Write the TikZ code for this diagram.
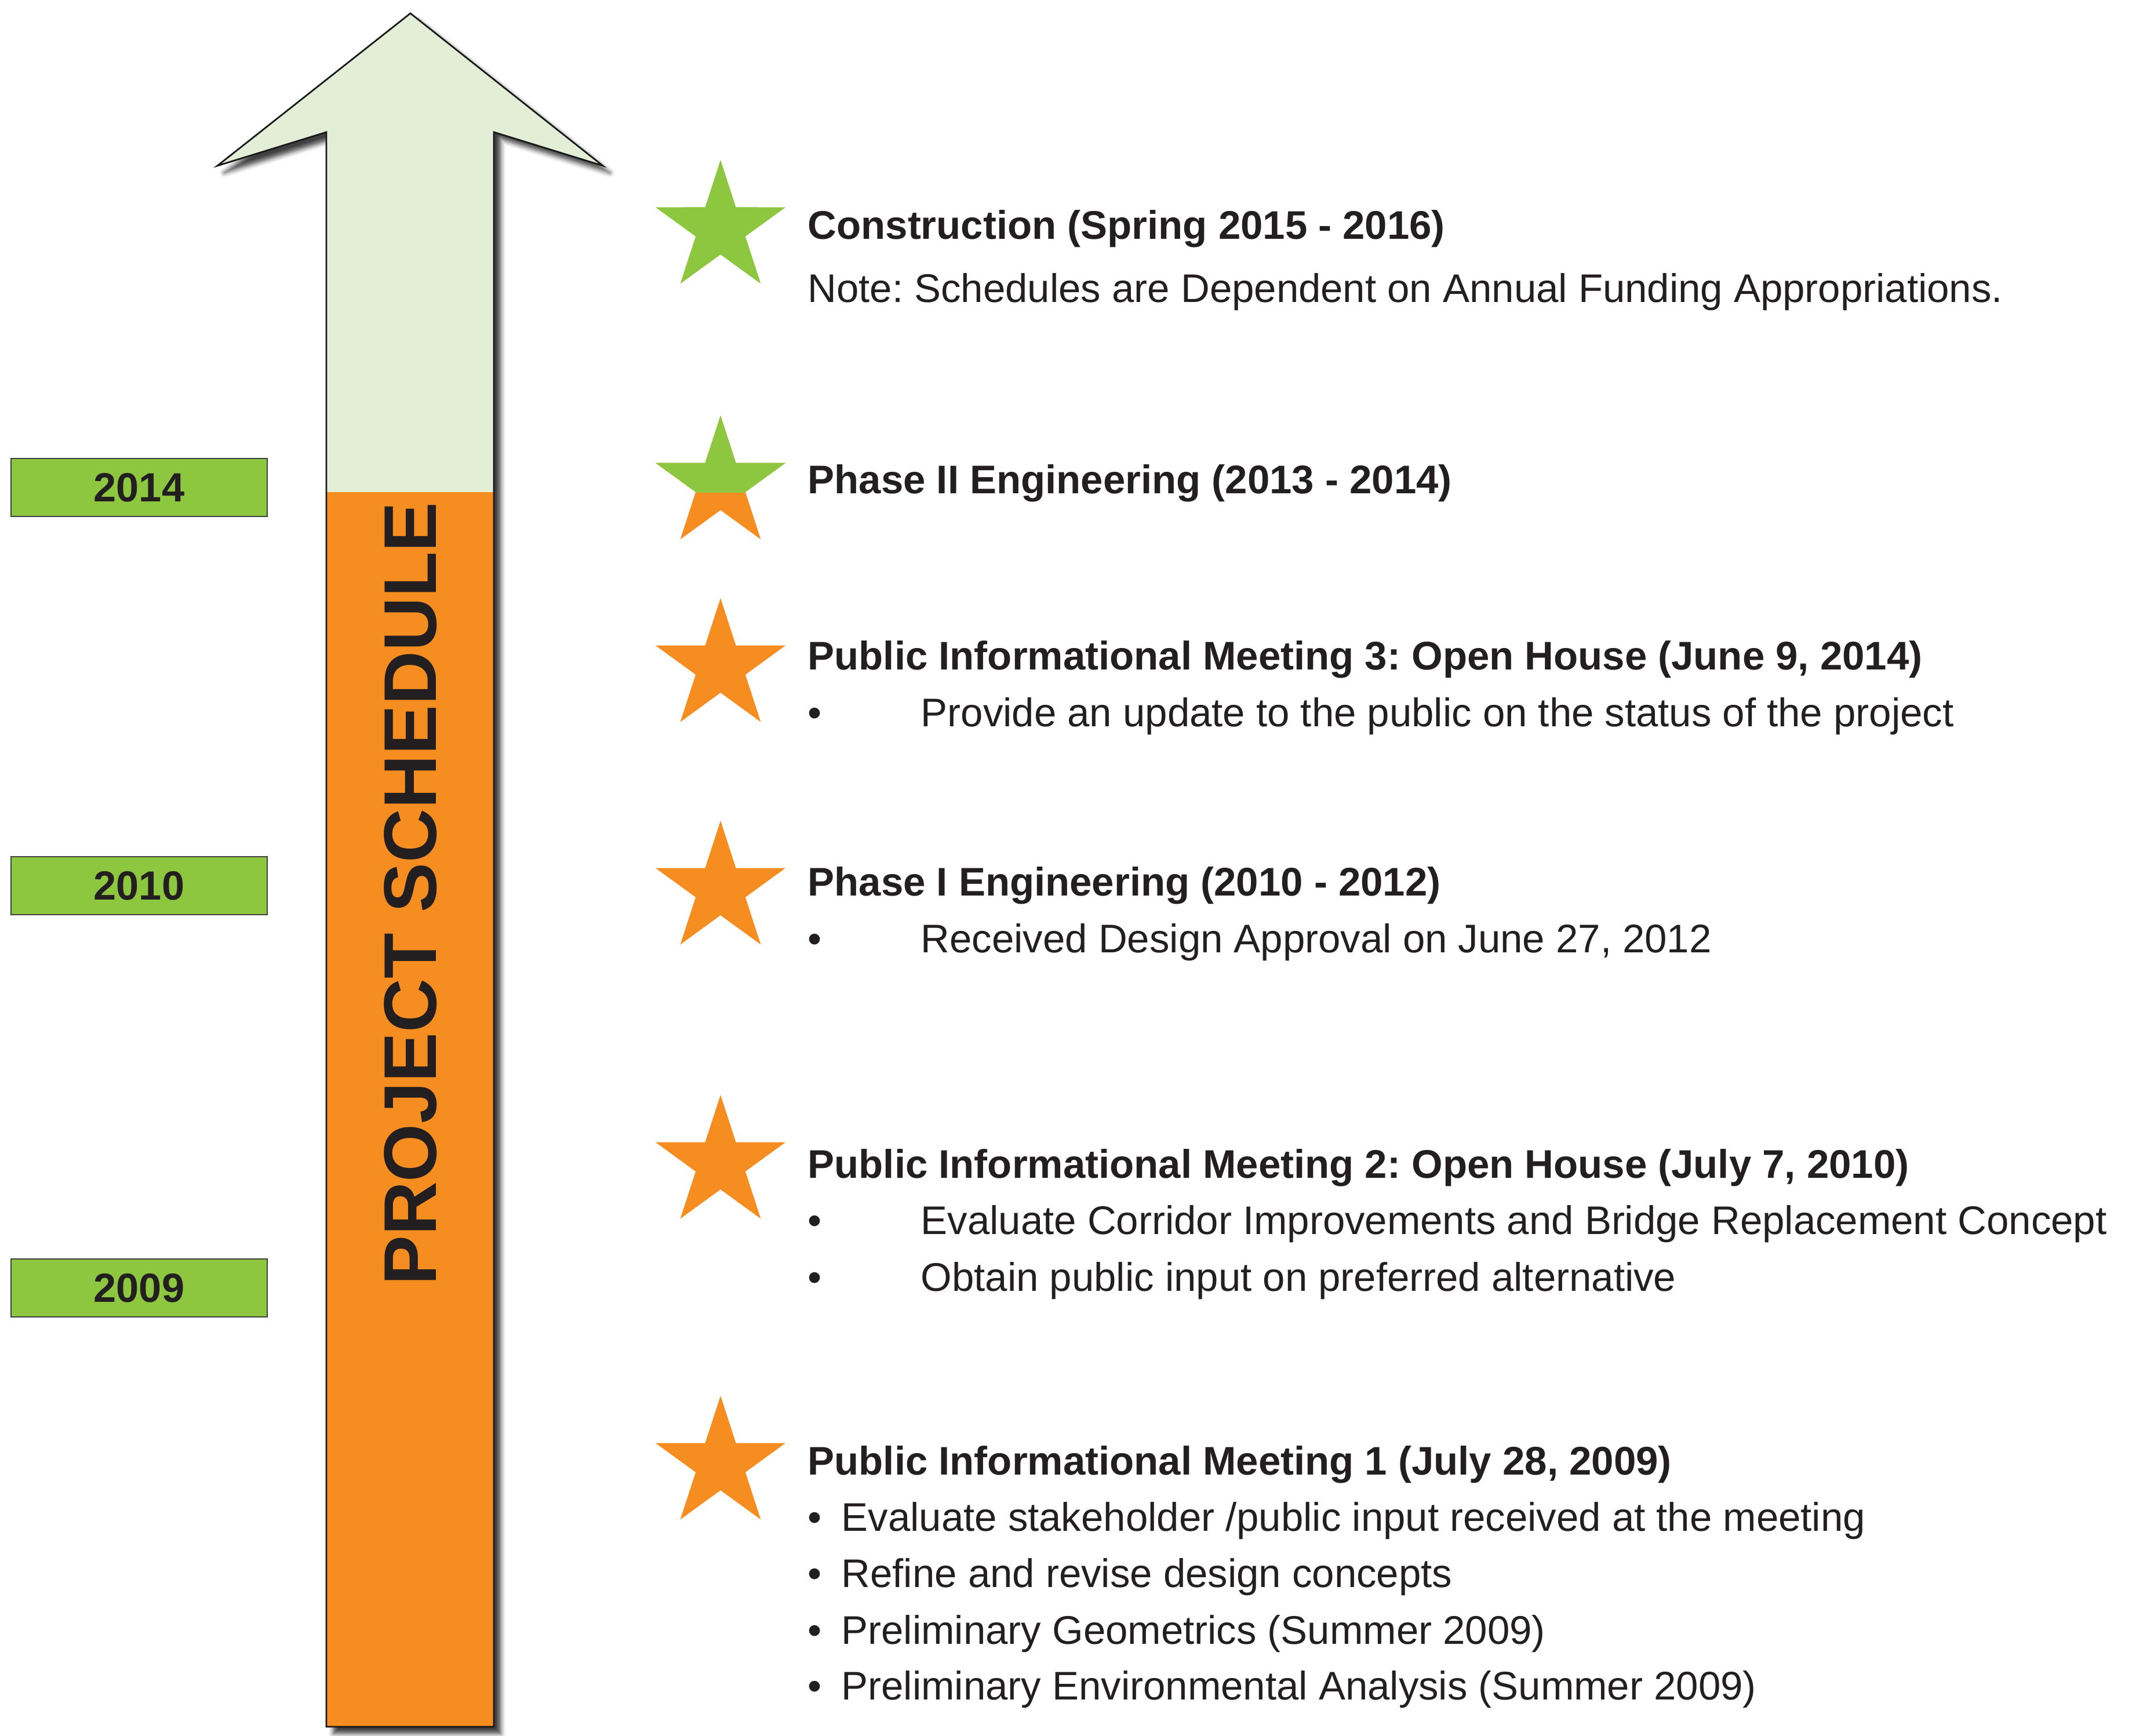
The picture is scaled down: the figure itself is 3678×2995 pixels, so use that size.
\documentclass[tikz,border=0pt]{standalone}
\usepackage{fontspec}
\setmainfont{Liberation Sans}
\usetikzlibrary{shapes.geometric,shadows.blur}
\frenchspacing

\definecolor{schedgreen}{RGB}{141,198,63}
\definecolor{schedorange}{RGB}{246,141,32}
\definecolor{arrowgreen}{RGB}{226,239,214}
\definecolor{textdark}{RGB}{35,31,32}

\newcommand{\bul}[1]{\makebox[#1][l]{\textbullet}}

\tikzset{
  milestone/.style={star, star points=5, star point ratio=2.618, minimum size=2.36cm, inner sep=0pt, fill=schedorange},
  yearbox/.style={draw=black!75, line width=0.6pt, fill=schedgreen, minimum width=4.42cm, minimum height=1cm, inner sep=0pt, font=\fontsize{20}{24}\selectfont\bfseries, text=textdark},
  headline/.style={anchor=base west, inner sep=0pt, font=\fontsize{19.6}{24}\selectfont\bfseries, text=textdark},
  detail/.style={anchor=base west, inner sep=0pt, font=\fontsize{19.6}{24}\selectfont, text=textdark},
}

\begin{document}
\begin{tikzpicture}[x=0.01cm, y=-0.01cm]
\useasboundingbox (0,0) rectangle (3678,2995);

% timeline arrow
\path[fill=arrowgreen, blur shadow={shadow xshift=0.12cm, shadow yshift=-0.12cm, shadow blur radius=0.08cm, shadow opacity=75}]
  (563,2979) -- (563,228) -- (375,286) -- (708,23) -- (1040,286) -- (852,228) -- (852,2979) -- cycle;
\fill[schedorange] (563,849) rectangle (852,2979);
\draw[line width=0.8pt, black!90]
  (563,2979) -- (563,228) -- (375,286) -- (708,23) -- (1040,286) -- (852,228) -- (852,2979) -- cycle;
\node[rotate=90, inner sep=0pt, font=\fontsize{36.6}{40}\selectfont\bfseries, text=textdark] (title) at (708,1542) {PROJECT SCHEDULE};

% years
\node[yearbox] (y2014) at (240,841) {2014};
\node[yearbox] (y2010) at (240,1528) {2010};
\node[yearbox] (y2009) at (240,2222) {2009};

% milestones
\node[milestone, fill=schedgreen] (s6) at (1243,394) {};
\node[milestone] (s5) at (1243,835) {};
\begin{scope}
  \clip (1100,680) rectangle (1400,850);
  \node[milestone, fill=schedgreen] (s5top) at (s5) {};
\end{scope}
\node[milestone] (s4) at (1243,1150) {};
\node[milestone] (s3) at (1243,1534) {};
\node[milestone] (s2) at (1243,2007) {};
\node[milestone] (s1) at (1243,2526) {};

\node[headline] (h6) at (1393,413) {Construction (Spring 2015 - 2016)};
\node[detail] (n6) at (1393,522) {Note: Schedules are Dependent on Annual Funding Appropriations.};

\node[headline] (h5) at (1393,852) {Phase II Engineering (2013 - 2014)};

\node[headline] (h4) at (1393,1156) {Public Informational Meeting 3: Open House (June 9, 2014)};
\node[detail] (d4a) at (1393,1254) {\bul{1.95cm}Provide an update to the public on the status of the project};

\node[headline] (h3) at (1393,1545) {Phase I Engineering (2010 - 2012)};
\node[detail] (d3a) at (1393,1643) {\bul{1.95cm}Received Design Approval on June 27, 2012};

\node[headline] (h2) at (1393,2032) {Public Informational Meeting 2: Open House (July 7, 2010)};
\node[detail] (d2a) at (1393,2129) {\bul{1.95cm}Evaluate Corridor Improvements and Bridge Replacement Concept};
\node[detail] (d2b) at (1393,2227) {\bul{1.95cm}Obtain public input on preferred alternative};

\node[headline] (h1) at (1393,2544) {Public Informational Meeting 1 (July 28, 2009)};
\node[detail] (d1a) at (1393,2641) {\bul{0.58cm}Evaluate stakeholder /public input received at the meeting};
\node[detail] (d1b) at (1393,2738) {\bul{0.58cm}Refine and revise design concepts};
\node[detail] (d1c) at (1393,2836) {\bul{0.58cm}Preliminary Geometrics (Summer 2009)};
\node[detail] (d1d) at (1393,2932) {\bul{0.58cm}Preliminary Environmental Analysis (Summer 2009)};
\end{tikzpicture}
\end{document}
